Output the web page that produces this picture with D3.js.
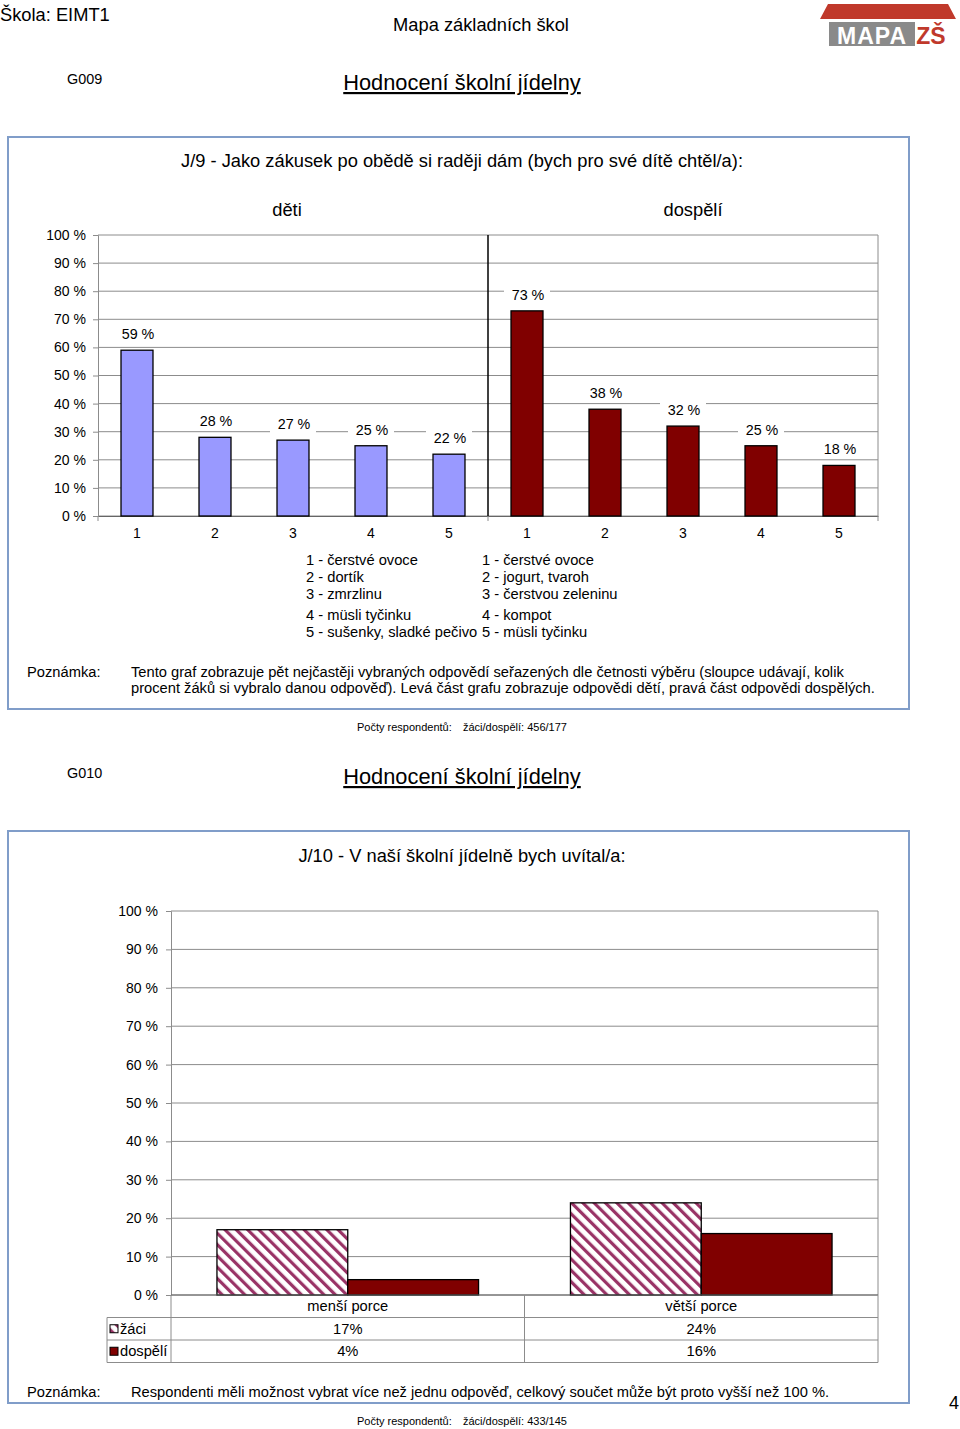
<!DOCTYPE html>
<html><head><meta charset="utf-8">
<script src="https://cdn.jsdelivr.net/npm/d3@7"></script>
<style>
body{margin:0;background:#fff;}
svg{display:block;font-family:"Liberation Sans",Arial,sans-serif;}
</style></head>
<body>
<script>
// ---- data ----
const childCats = ["1","2","3","4","5"];
const childVals = [59,28,27,25,22];
const adultCats = ["1","2","3","4","5"];
const adultVals = [73,38,32,25,18];
const childLegend = ["1 - čerstvé ovoce","2 - dortík","3 - zmrzlinu","4 - müsli tyčinku","5 - sušenky, sladké pečivo"];
const adultLegend = ["1 - čerstvé ovoce","2 - jogurt, tvaroh","3 - čerstvou zeleninu","4 - kompot","5 - müsli tyčinku"];
const yTicks = [0,10,20,30,40,50,60,70,80,90,100];
const portionCats = ["menší porce","větší porce"];
const seriesNames = ["žáci","dospělí"];
const pupilVals = [17,24];
const adultPortionVals = [4,16];

const W=960,H=1429;
const svg=d3.select("body").append("svg").attr("width",W).attr("height",H);
const defs=svg.append("defs");
const pat=defs.append("pattern").attr("id","hatch").attr("patternUnits","userSpaceOnUse")
  .attr("width",8).attr("height",8).attr("patternTransform","rotate(-45)");
pat.append("rect").attr("width",8).attr("height",8).attr("fill","#fff");
pat.append("rect").attr("x",0).attr("y",0).attr("width",3.2).attr("height",8).attr("fill","#993366");

const BOX="#809dc9", GRID="#8c8c8c", RED="#800000", BLUE="#9999ff";
const BODY=14.7;

// ---- header ----
svg.append("text").attr("x",0).attr("y",21).attr("font-size",18.3).text("Škola: EIMT1");
svg.append("text").attr("x",481).attr("y",31).attr("text-anchor","middle").attr("font-size",18.3).text("Mapa základních škol");
// logo
const logo=svg.append("g");
logo.append("path").attr("d","M828,4 L948,4 L956,19 L820,19 Z").attr("fill","#c0392b");
logo.append("rect").attr("x",829).attr("y",22).attr("width",86).attr("height",24).attr("fill","#8a8a8a");
logo.append("text").attr("x",872).attr("y",44).attr("text-anchor","middle").attr("font-size",23).attr("font-weight","bold").attr("fill","#fff").attr("letter-spacing",1).text("MAPA");
logo.append("text").attr("x",931).attr("y",44).attr("text-anchor","middle").attr("font-size",23).attr("font-weight","bold").attr("fill","#c0392b").text("ZŠ");

function sectionHeader(code,y){
  svg.append("text").attr("x",67).attr("y",y).attr("font-size",14.4).text(code);
  svg.append("text").attr("x",462).attr("y",y+6).attr("text-anchor","middle").attr("font-size",21.8)
    .attr("text-decoration","underline").text("Hodnocení školní jídelny");
}
sectionHeader("G009",84);
sectionHeader("G010",778);

// ===== Chart 1 =====
svg.append("rect").attr("x",8).attr("y",137).attr("width",901).attr("height",572).attr("fill","none").attr("stroke",BOX).attr("stroke-width",2);
svg.append("text").attr("x",462).attr("y",167).attr("text-anchor","middle").attr("font-size",18.3)
  .text("J/9 - Jako zákusek po obědě si raději dám (bych pro své dítě chtěl/a):");
svg.append("text").attr("x",287).attr("y",216).attr("text-anchor","middle").attr("font-size",18.3).text("děti");
svg.append("text").attr("x",693).attr("y",216).attr("text-anchor","middle").attr("font-size",18.3).text("dospělí");

const L1=98,R1=878,T1=235,B1=516;
const keys1=childCats.map(c=>"c"+c).concat(adultCats.map(c=>"a"+c));
const x1=d3.scaleBand().domain(keys1).range([L1,R1]).paddingInner(0.59).paddingOuter(0.295);
const y1=d3.scaleLinear().domain([0,100]).range([B1,T1]);
const g1=svg.append("g");
g1.selectAll("line.grid").data(yTicks).join("line").attr("x1",L1).attr("x2",R1)
  .attr("y1",d=>y1(d)).attr("y2",d=>y1(d)).attr("stroke",GRID).attr("stroke-width",1);
g1.append("line").attr("x1",R1).attr("x2",R1).attr("y1",T1).attr("y2",B1).attr("stroke",GRID);
const ya1=g1.append("g").attr("transform",`translate(${L1},0)`)
  .call(d3.axisLeft(y1).tickValues(yTicks).tickSize(5).tickPadding(7).tickFormat(d=>d+" %"));
ya1.select(".domain").attr("stroke",GRID);
ya1.selectAll(".tick line").attr("stroke",GRID);
ya1.selectAll("text").attr("font-size",14).attr("font-family","Liberation Sans, Arial, sans-serif").attr("fill","#000");
const xa1=g1.append("g").attr("transform",`translate(0,${B1})`)
  .call(d3.axisBottom(x1).tickSize(0).tickPadding(12).tickFormat(d=>d.slice(1)));
xa1.select(".domain").attr("stroke","#666");
xa1.selectAll("text").attr("font-size",14).attr("font-family","Liberation Sans, Arial, sans-serif").attr("fill","#000");
[L1,(L1+R1)/2,R1].forEach(xx=>g1.append("line").attr("x1",xx).attr("x2",xx).attr("y1",B1).attr("y2",B1+5).attr("stroke",GRID));
g1.append("line").attr("x1",(L1+R1)/2).attr("x2",(L1+R1)/2).attr("y1",T1).attr("y2",B1).attr("stroke","#000").attr("stroke-width",1.5);
const data1=childVals.map((v,i)=>({k:"c"+childCats[i],v,fill:BLUE})).concat(adultVals.map((v,i)=>({k:"a"+adultCats[i],v,fill:RED})));
g1.selectAll("rect.bar").data(data1).join("rect").attr("x",d=>x1(d.k)).attr("width",x1.bandwidth())
  .attr("y",d=>y1(d.v)).attr("height",d=>y1(0)-y1(d.v)).attr("fill",d=>d.fill).attr("stroke","#000").attr("stroke-width",1.3);
data1.forEach(d=>{
  const cx=x1(d.k)+x1.bandwidth()/2, cy=y1(d.v)-16;
  g1.append("rect").attr("x",cx-23).attr("y",cy-9).attr("width",46).attr("height",18).attr("fill","#fff");
  g1.append("text").attr("x",cx+1).attr("y",cy+5).attr("text-anchor","middle").attr("font-size",14.3).text(d.v+" %");
});
const legY=[560,577,594,615,632];
childLegend.forEach((t,i)=>svg.append("text").attr("x",306).attr("y",legY[i]+5).attr("font-size",BODY).text(t));
adultLegend.forEach((t,i)=>svg.append("text").attr("x",482).attr("y",legY[i]+5).attr("font-size",BODY).text(t));
svg.append("text").attr("x",27).attr("y",677).attr("font-size",BODY).text("Poznámka:");
svg.append("text").attr("x",131).attr("y",677).attr("font-size",BODY).text("Tento graf zobrazuje pět nejčastěji vybraných odpovědí seřazených dle četnosti výběru (sloupce udávají, kolik");
svg.append("text").attr("x",131).attr("y",693).attr("font-size",BODY).text("procent žáků si vybralo danou odpověď). Levá část grafu zobrazuje odpovědi dětí, pravá část odpovědi dospělých.");
function respondents(y,txt){
  svg.append("text").attr("x",357).attr("y",y).attr("font-size",11).text("Počty respondentů:");
  svg.append("text").attr("x",463).attr("y",y).attr("font-size",11).text(txt);
}
respondents(731,"žáci/dospělí: 456/177");

// ===== Chart 2 =====
svg.append("rect").attr("x",8).attr("y",831).attr("width",901).attr("height",572).attr("fill","none").attr("stroke",BOX).attr("stroke-width",2);
svg.append("text").attr("x",462).attr("y",862).attr("text-anchor","middle").attr("font-size",18.3).text("J/10 - V naší školní jídelně bych uvítal/a:");
const L2=171,R2=878,T2=911,B2=1295;
const x2=d3.scaleBand().domain(portionCats).range([L2,R2]).paddingInner(0.26).paddingOuter(0.13);
const xs2=d3.scaleBand().domain(seriesNames).range([0,x2.bandwidth()]);
const y2=d3.scaleLinear().domain([0,100]).range([B2,T2]);
const g2=svg.append("g");
g2.selectAll("line.grid").data(yTicks).join("line").attr("x1",L2).attr("x2",R2)
  .attr("y1",d=>y2(d)).attr("y2",d=>y2(d)).attr("stroke",GRID);
g2.append("line").attr("x1",R2).attr("x2",R2).attr("y1",T2).attr("y2",B2).attr("stroke",GRID);
const ya2=g2.append("g").attr("transform",`translate(${L2},0)`)
  .call(d3.axisLeft(y2).tickValues(yTicks).tickSize(5).tickPadding(8).tickFormat(d=>d+" %"));
ya2.select(".domain").attr("stroke",GRID);
ya2.selectAll(".tick line").attr("stroke",GRID);
ya2.selectAll("text").attr("font-size",14).attr("font-family","Liberation Sans, Arial, sans-serif").attr("fill","#000");
const data2=[];
portionCats.forEach((c,i)=>{
  data2.push({c,s:seriesNames[0],v:pupilVals[i],fill:"url(#hatch)"});
  data2.push({c,s:seriesNames[1],v:adultPortionVals[i],fill:RED});
});
g2.selectAll("rect.bar").data(data2).join("rect").attr("x",d=>x2(d.c)+xs2(d.s)).attr("width",xs2.bandwidth())
  .attr("y",d=>y2(d.v)).attr("height",d=>y2(0)-y2(d.v)).attr("fill",d=>d.fill).attr("stroke","#000").attr("stroke-width",1.3);
const TL=107,rowH=22.5;
const rows=[B2,B2+rowH,B2+2*rowH,B2+3*rowH];
g2.append("line").attr("x1",L2).attr("x2",R2).attr("y1",B2).attr("y2",B2).attr("stroke","#666");
[1,2,3].forEach(i=>g2.append("line").attr("x1",TL).attr("x2",R2).attr("y1",rows[i]).attr("y2",rows[i]).attr("stroke",GRID));
g2.append("line").attr("x1",TL).attr("x2",TL).attr("y1",rows[1]).attr("y2",rows[3]).attr("stroke",GRID);
g2.append("line").attr("x1",L2).attr("x2",L2).attr("y1",B2).attr("y2",rows[3]).attr("stroke",GRID);
g2.append("line").attr("x1",(L2+R2)/2).attr("x2",(L2+R2)/2).attr("y1",B2).attr("y2",rows[3]).attr("stroke",GRID);
g2.append("line").attr("x1",R2).attr("x2",R2).attr("y1",B2).attr("y2",rows[3]).attr("stroke",GRID);
const colC=portionCats.map((c,i)=>L2+(R2-L2)*(i+0.5)/portionCats.length);
portionCats.forEach((c,i)=>{
  g2.append("text").attr("x",colC[i]).attr("y",rows[0]+rowH/2+5).attr("text-anchor","middle").attr("font-size",BODY).text(c);
  g2.append("text").attr("x",colC[i]).attr("y",rows[1]+rowH/2+5).attr("text-anchor","middle").attr("font-size",BODY).text(pupilVals[i]+"%");
  g2.append("text").attr("x",colC[i]).attr("y",rows[2]+rowH/2+5).attr("text-anchor","middle").attr("font-size",BODY).text(adultPortionVals[i]+"%");
});
seriesNames.forEach((s,i)=>{
  const yy=rows[i+1]+rowH/2;
  g2.append("rect").attr("x",110).attr("y",yy-4).attr("width",8).attr("height",8)
    .attr("fill",i===0?"url(#hatch)":RED).attr("stroke","#000").attr("stroke-width",1);
  g2.append("text").attr("x",120).attr("y",yy+5).attr("font-size",BODY).text(s);
});
svg.append("text").attr("x",27).attr("y",1397).attr("font-size",BODY).text("Poznámka:");
svg.append("text").attr("x",131).attr("y",1397).attr("font-size",BODY).text("Respondenti měli možnost vybrat více než jednu odpověď, celkový součet může být proto vyšší než 100 %.");
svg.append("text").attr("x",949).attr("y",1409).attr("font-size",18).text("4");
respondents(1425,"žáci/dospělí: 433/145");
</script>
</body></html>
